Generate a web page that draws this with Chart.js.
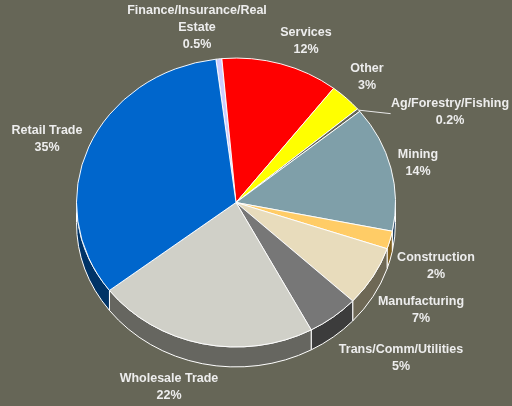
<!DOCTYPE html>
<html><head><meta charset="utf-8">
<style>html,body{margin:0;padding:0;background:#666657}#w{width:512px;height:406px;position:relative}</style>
<script src="https://cdn.jsdelivr.net/npm/chart.js@4"></script></head>
<body><div id="w"><canvas id="c" width="512" height="406"></canvas></div>
<script>
const categories=['Finance/Insurance/Real Estate','Services','Other','Ag/Forestry/Fishing','Mining','Construction','Manufacturing','Trans/Comm/Utilities','Wholesale Trade','Retail Trade'];
const labelPercents=['0.5%','12%','3%','0.2%','14%','2%','7%','5%','22%','35%'];
const sliceShares=[0.6,11.9,3.3,0.35,14.05,2,6.75,5.25,22.4,33.4];
const topColors=['#CCCCFF','#FF0000','#FFFF00','#666657','#7F9FA9','#FFCC66','#E8DCBC','#777777','#D0D0C8','#0066CC'];
const wallColors=['#66667F','#7F0000','#7F7F00','#333330','#1F3F5F','#806020','#6E6855','#3C3C3C','#666660','#003366'];
const labelLines=[['Finance/Insurance/Real','Estate'],['Services'],['Other'],['Ag/Forestry/Fishing'],['Mining'],['Construction'],['Manufacturing'],['Trans/Comm/Utilities'],['Wholesale Trade'],['Retail Trade']];
const labelAnchors=[[197,10.5],[306,32.5],[367,68.5],[450,103.5],[418,154.5],[436,257.5],[421,301.5],[401,349.5],[169,378.5],[47,130.5]];
const tilt=144/159, depth=20, lineGap=17;
const tiltPlugin={id:'tilt',
 beforeDatasetsDraw(chart){
  const ctx=chart.ctx, arcs=chart.getDatasetMeta(0).data;
  const cx=arcs[0].x, cy=arcs[0].y, r=arcs[0].outerRadius;
  ctx.save();
  ctx.lineWidth=1; ctx.strokeStyle='#FFFFFF';
  arcs.forEach((a,i)=>{
   const s=Math.max(a.startAngle%(2*Math.PI),0), e=Math.min(a.endAngle,Math.PI);
   if(a.startAngle>=Math.PI||a.endAngle<=0||e<=s) return;
   ctx.beginPath();
   ctx.ellipse(cx,cy,r,r*tilt,0,s,e);
   ctx.ellipse(cx,cy+depth,r,r*tilt,0,e,s,true);
   ctx.closePath();
   ctx.fillStyle=wallColors[i]; ctx.fill(); ctx.stroke();
  });
  ctx.restore();
  ctx.save();
  ctx.translate(cx,cy); ctx.scale(1,tilt); ctx.translate(-cx,-cy);
 },
 afterDatasetsDraw(chart){
  const ctx=chart.ctx;
  ctx.restore();
  ctx.save();
  ctx.strokeStyle='#E8E8E8'; ctx.lineWidth=1;
  const a=chart.getDatasetMeta(0).data[3];
  const mid=(a.startAngle+a.endAngle)/2;
  const px=a.x+a.outerRadius*Math.cos(mid), py=a.y+a.outerRadius*tilt*Math.sin(mid);
  ctx.beginPath(); ctx.moveTo(px,py); ctx.lineTo(px+32,py+3.5); ctx.stroke();
  ctx.fillStyle='#EDEDED'; ctx.font='bold 12.5px "Liberation Sans"'; ctx.textAlign='center'; ctx.textBaseline='middle';
  categories.forEach((c,i)=>{
   const [x,y]=labelAnchors[i];
   [...labelLines[i],labelPercents[i]].forEach((t,k)=>ctx.fillText(t,x,y+k*lineGap));
  });
  ctx.restore();
 }};
new Chart(document.getElementById('c'),{type:'pie',plugins:[tiltPlugin],
 data:{labels:categories,datasets:[{data:sliceShares,backgroundColor:topColors,borderColor:'#FFFFFF',borderWidth:1,borderAlign:'center'}]},
 options:{responsive:false,animation:false,rotation:-7.25,
  layout:{padding:{left:76,right:116,top:42,bottom:43}},
  plugins:{legend:{display:false},tooltip:{enabled:false},title:{display:false}}}});
</script></body></html>
